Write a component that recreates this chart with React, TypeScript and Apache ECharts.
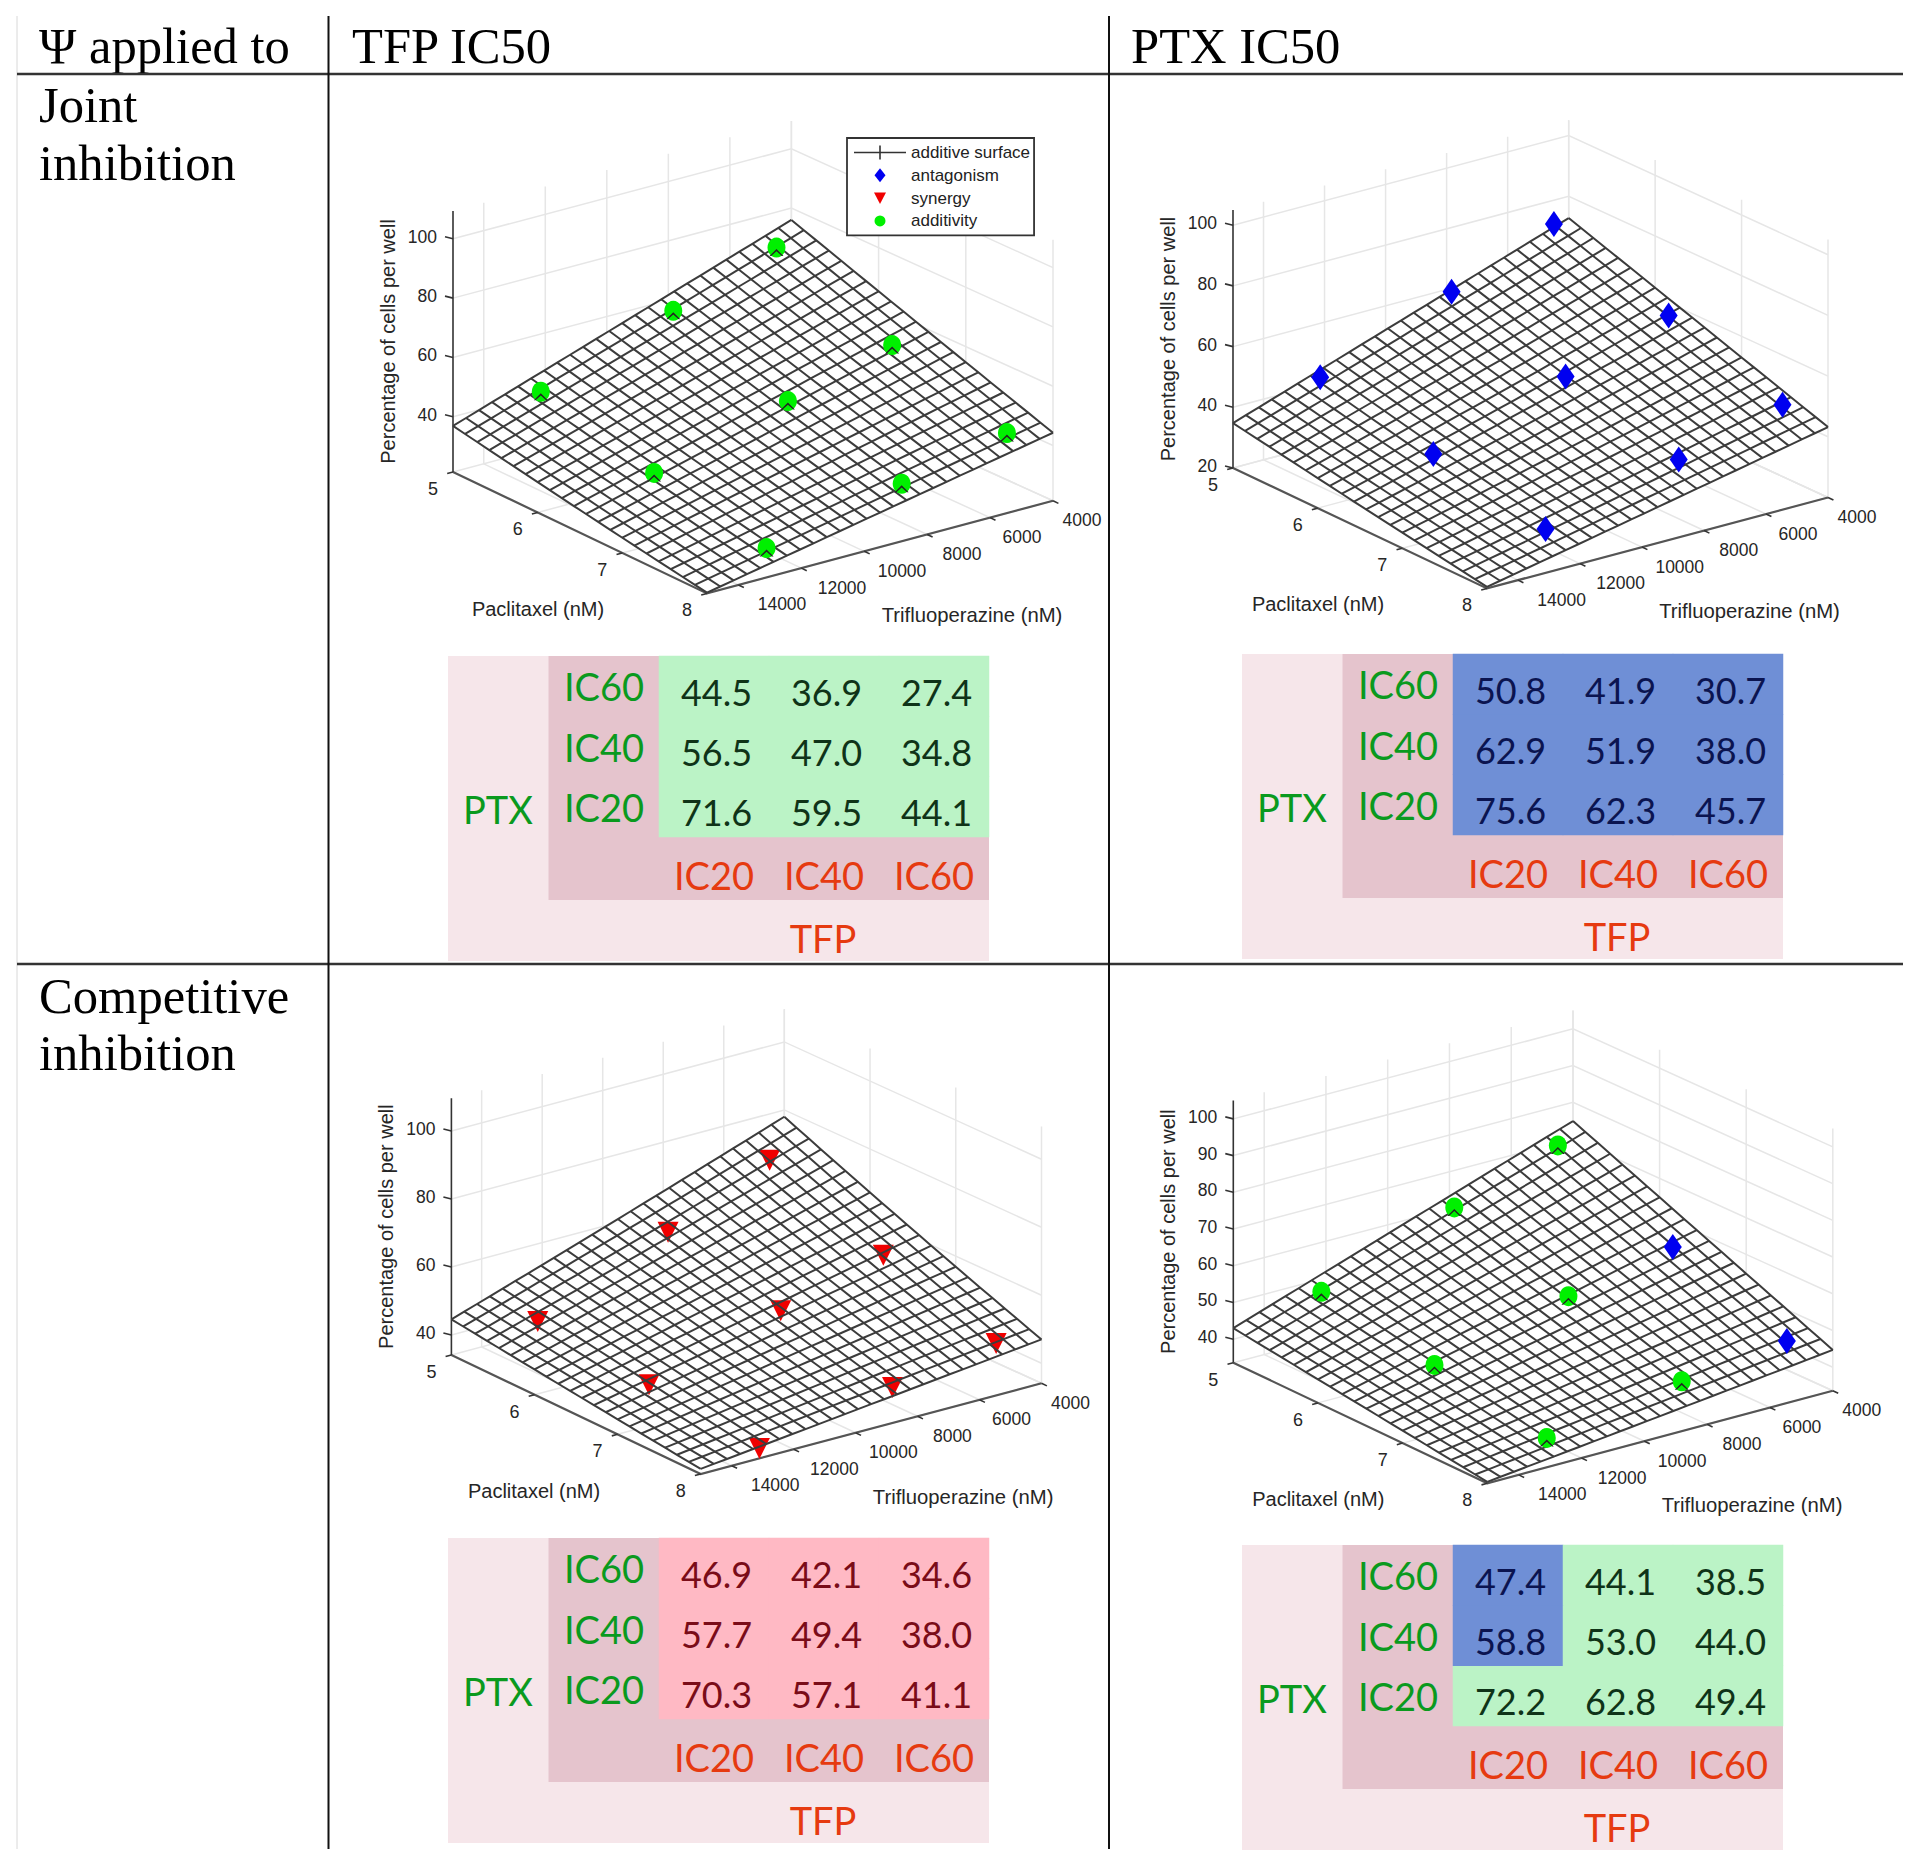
import React, { useEffect, useRef } from "react";
import * as echarts from "echarts";

const WIDTH = 1920;
const HEIGHT = 1867;

// ---------- values ----------
const doseLevels = ["IC20", "IC40", "IC60"];
// rows: PTX IC20, IC40, IC60; columns: TFP IC20, IC40, IC60
const jointTfpValues = [
  [71.6, 59.5, 44.1],
  [56.5, 47.0, 34.8],
  [44.5, 36.9, 27.4],
];
const jointPtxValues = [
  [75.6, 62.3, 45.7],
  [62.9, 51.9, 38.0],
  [50.8, 41.9, 30.7],
];
const compTfpValues = [
  [70.3, 57.1, 41.1],
  [57.7, 49.4, 38.0],
  [46.9, 42.1, 34.6],
];
const compPtxValues = [
  [72.2, 62.8, 49.4],
  [58.8, 53.0, 44.0],
  [47.4, 44.1, 38.5],
];
const A = "additivity";
const N = "antagonism";
const S = "synergy";
const classOrder = [A, N, S];
const jointTfpClasses = [[A, A, A], [A, A, A], [A, A, A]];
const jointPtxClasses = [[N, N, N], [N, N, N], [N, N, N]];
const compTfpClasses = [[S, S, S], [S, S, S], [S, S, S]];
const compPtxClasses = [[A, A, A], [N, A, A], [N, A, A]];

// dose each marker sits at, read back from the plots
const tfpDoses = [5050, 8400, 12700];
const ptxDoses = [5.2, 6.53, 7.85];

// additive surface at nine knots (rows ptx, columns tfp)
const knotPtx = [5, 6.5, 8];
const knotTfp = [4000, 9500, 15000];
const surfaceJointTfp = [[76, 56.4, 36.9], [60, 44.5, 29], [44.3, 33, 21.6]];
const surfaceJointPtx = [[72.8, 53.8, 34.8], [58, 42.3, 27.5], [43.2, 31.8, 20.5]];
const surfaceCompTfp = [[78, 61, 44.6], [62, 51, 40], [47, 41.3, 35.6]];
const surfaceCompPtx = [[74.9, 59, 43], [59.8, 49, 38.5], [44.7, 39.3, 34]];

const ptxTicks = [5, 6, 7, 8];
const tfpTicks = [4000, 6000, 8000, 10000, 12000, 14000];
const zTicksA = [40, 60, 80, 100];
const zTicksB = [20, 40, 60, 80, 100];
const zTicksC = [40, 50, 60, 70, 80, 90, 100];

const TFP_MIN = 4000;
const TFP_MAX = 15000;
const MESH_TFP_CELLS = 26;
const MESH_PTX_CELLS = 21;

// ---------- layout ----------
type Pt = [number, number];
const plotLayouts = [
  { left: [453, 472] as Pt, bottom: [707, 593.4] as Pt, right: [1053, 500.8] as Pt, back: [791.4, 382] as Pt, zMin: 21.35, zMax: 109.4, k: 2.965 },
  { left: [1233, 468] as Pt, bottom: [1487, 588.4] as Pt, right: [1828, 497.5] as Pt, back: [1568.7, 378.3] as Pt, zMin: 20, zMax: 105, k: 3.035 },
  { left: [451.4, 1355] as Pt, bottom: [700.7, 1474] as Pt, right: [1041.5, 1383.3] as Pt, back: [784.3, 1266] as Pt, zMin: 34.1, zMax: 109.6, k: 3.4 },
  { left: [1233.3, 1362.7] as Pt, bottom: [1487.3, 1483.3] as Pt, right: [1832.8, 1390.7] as Pt, back: [1573, 1272.7] as Pt, zMin: 33.6, zMax: 105, k: 3.672 },
];
const tableOrigins: Pt[] = [[659, 656], [1453, 654], [659, 1538], [1453, 1545]];

const panelData = [
  { values: jointTfpValues, classes: jointTfpClasses, surface: surfaceJointTfp, zTicks: zTicksA },
  { values: jointPtxValues, classes: jointPtxClasses, surface: surfaceJointPtx, zTicks: zTicksB },
  { values: compTfpValues, classes: compTfpClasses, surface: surfaceCompTfp, zTicks: zTicksA },
  { values: compPtxValues, classes: compPtxClasses, surface: surfaceCompPtx, zTicks: zTicksC },
];

const cellColor: Record<string, string> = { additivity: "#bbf3c6", antagonism: "#6f8fd6", synergy: "#ffb9c4" };
const cellText: Record<string, string> = { additivity: "#0f3318", antagonism: "#0b1450", synergy: "#7a0c18" };
const markerColor: Record<string, string> = { additivity: "#00f000", antagonism: "#0000f0", synergy: "#f00000" };
const PTX_GREEN = "#0a9a1e";
const TFP_RED = "#e63a10";
const SANS = '"Liberation Sans", Arial, sans-serif';
const SERIF = '"Liberation Serif", "Times New Roman", serif';
const TABLE_FONT = "Lato";

const lerp = (a: number, b: number, t: number) => a + (b - a) * t;

function project(L: (typeof plotLayouts)[number], tfp: number, ptx: number, z: number): Pt {
  const a = (TFP_MAX - tfp) / (TFP_MAX - TFP_MIN);
  const b = (ptx - 5) / 3;
  const x = lerp(lerp(L.left[0], L.back[0], a), lerp(L.bottom[0], L.right[0], a), b);
  const y = lerp(lerp(L.left[1], L.back[1], a), lerp(L.bottom[1], L.right[1], a), b);
  return [x, y - (z - L.zMin) * L.k];
}

// The mesh between the nine read knots: the surface is a fitted model in the source
// and its hundreds of grid nodes cannot be read one by one.
function quad(xs: number[], ys: number[], x: number) {
  let out = 0;
  for (let i = 0; i < 3; i++) {
    let w = 1;
    for (let j = 0; j < 3; j++) if (j !== i) w *= (x - xs[j]) / (xs[i] - xs[j]);
    out += w * ys[i];
  }
  return out;
}
function surfaceAt(surface: number[][], tfp: number, ptx: number) {
  return quad(knotPtx, surface.map((row) => quad(knotTfp, row, tfp)), ptx);
}

const text = (
  t: string, x: number, y: number, font: string, fill: string,
  align = "center", rotation = 0, vAlign = "middle",
) => ({
  type: "text", x, y, rotation, z: 5, silent: true,
  style: { text: t, font, fill, textAlign: align, textVerticalAlign: vAlign },
});
const hline = (x1: number, y1: number, x2: number, y2: number, stroke: string, lineWidth: number) => ({
  type: "line", z: 6, silent: true, shape: { x1, y1, x2, y2 }, style: { stroke, lineWidth },
});
const rect = (x: number, y: number, width: number, height: number, fill: string) => ({
  type: "rect", z: -10, silent: true, shape: { x, y, width, height }, style: { fill },
});

export default function App() {
  const ref = useRef<HTMLDivElement>(null);
  useEffect(() => {
    document.body.style.margin = "0";
    const chart = echarts.init(ref.current!, undefined, { renderer: "svg" });

    const grids: any[] = [];
    const xAxes: any[] = [];
    const yAxes: any[] = [];
    const series: any[] = [];
    const graphics: any[] = [];
    const heatmapIndices: number[] = [];
    const HEAD = `50.6px ${SERIF}`;

    // page frame
    graphics.push(
      hline(17, 16, 17, 1849, "#d8d8d8", 1),
      hline(17, 74, 1903, 74, "#333", 2.4),
      hline(17, 964, 1903, 964, "#333", 2.4),
      hline(328.5, 16, 328.5, 1849, "#111", 2),
      hline(1109, 16, 1109, 1849, "#111", 2),
      text("Ψ applied to", 39, 45.5, HEAD, "#000", "left"),
      text("TFP IC50", 352, 45.5, HEAD, "#000", "left"),
      text("PTX IC50", 1131, 45.5, HEAD, "#000", "left"),
      text("Joint", 39, 105, HEAD, "#000", "left"),
      text("inhibition", 39, 163, HEAD, "#000", "left"),
      text("Competitive", 39, 996, HEAD, "#000", "left"),
      text("inhibition", 39, 1053, HEAD, "#000", "left"),
    );

    plotLayouts.forEach((L, i) => {
      const { values, classes, surface, zTicks } = panelData[i];
      grids.push({ left: 0, top: 0, width: WIDTH, height: HEIGHT, show: false });
      xAxes.push({ type: "value", gridIndex: i, min: 0, max: WIDTH, show: false });
      yAxes.push({ type: "value", gridIndex: i, min: 0, max: HEIGHT, inverse: true, show: false });
      const axisRefs = { xAxisIndex: i, yAxisIndex: i, coordinateSystem: "cartesian2d" };

      // walls and floor
      const wall: any[] = [];
      zTicks.forEach((z) => {
        wall.push({ coords: [project(L, TFP_MAX, 5, z), project(L, TFP_MIN, 5, z), project(L, TFP_MIN, 8, z)] });
      });
      tfpTicks.forEach((t) => {
        wall.push({ coords: [project(L, t, 5, L.zMax), project(L, t, 5, L.zMin), project(L, t, 8, L.zMin)] });
      });
      ptxTicks.slice(1).forEach((p) => {
        wall.push({ coords: [project(L, TFP_MIN, p, L.zMax), project(L, TFP_MIN, p, L.zMin), project(L, TFP_MAX, p, L.zMin)] });
      });
      wall.push({ coords: [project(L, TFP_MIN, 5, L.zMax), project(L, TFP_MIN, 5, L.zMin)] });
      wall.push({ coords: [project(L, TFP_MAX, 5, L.zMin), project(L, TFP_MIN, 5, L.zMin), project(L, TFP_MIN, 8, L.zMin)] });
      series.push({
        ...axisRefs, type: "lines", name: "grid", polyline: true, silent: true, z: 1,
        lineStyle: { color: "#e6e6e6", width: 1.5, opacity: 1 }, data: wall,
      });

      // axes
      const axisLines: any[] = [
        { coords: [project(L, TFP_MAX, 5, L.zMin), project(L, TFP_MAX, 8, L.zMin), project(L, TFP_MIN, 8, L.zMin)] },
      ];
      const tickLines: any[] = [];
      const [bx, by] = project(L, TFP_MAX, 8, L.zMin);
      const [rx, ry] = project(L, TFP_MIN, 8, L.zMin);
      const [lx, ly] = project(L, TFP_MAX, 5, L.zMin);
      const tLen = Math.hypot(rx - bx, ry - by);
      const pLen = Math.hypot(bx - lx, by - ly);
      ptxTicks.forEach((p) => {
        const [x, y] = project(L, TFP_MAX, p, L.zMin);
        tickLines.push({ coords: [[x, y], [x - ((rx - bx) / tLen) * 6, y - ((ry - by) / tLen) * 6]] });
        graphics.push(text(String(p), x - 20, y + 17, `18px ${SANS}`, "#262626"));
      });
      tfpTicks.forEach((t) => {
        const [x, y] = project(L, t, 8, L.zMin);
        const frac = (TFP_MAX - t) / (TFP_MAX - TFP_MIN);
        tickLines.push({ coords: [[x, y], [x + ((bx - lx) / pLen) * 6, y + ((by - ly) / pLen) * 6]] });
        graphics.push(text(String(t), x + 45 - 16 * frac, y + 19.5, `17.5px ${SANS}`, "#262626"));
      });
      zTicks.forEach((z) => {
        const [x, y] = project(L, TFP_MAX, 5, z);
        tickLines.push({ coords: [[x, y], [x - 8, y - 2]] });
        graphics.push(text(String(z), x - 16, y - 2, `17.5px ${SANS}`, "#262626", "right"));
      });
      graphics.push(
        text("Paclitaxel (nM)", (lx + bx) / 2 - 42, (ly + by) / 2 + 76, `20px ${SANS}`, "#262626"),
        text("Trifluoperazine (nM)", (bx + rx) / 2 + 92, (by + ry) / 2 + 68, `20.3px ${SANS}`, "#262626"),
        text("Percentage of cells per well", lx - 65, (ly + project(L, TFP_MAX, 5, L.zMax)[1]) / 2, `20px ${SANS}`, "#262626", "center", Math.PI / 2),
      );
      series.push({
        ...axisRefs, type: "lines", name: "floor axes", polyline: true, silent: true, z: 1.5,
        lineStyle: { color: "#555", width: 2.2, opacity: 1 }, data: axisLines,
      });
      series.push({
        ...axisRefs, type: "lines", name: "z axis", polyline: true, silent: true, z: 1.5,
        lineStyle: { color: "#333", width: 1.6, opacity: 1 },
        data: [{ coords: [project(L, TFP_MAX, 5, L.zMin), project(L, TFP_MAX, 5, L.zMax)] }, ...tickLines],
      });

      // opaque face of the surface
      const outline: Pt[] = [];
      for (let n = 0; n <= MESH_TFP_CELLS; n++) {
        const t = lerp(TFP_MAX, TFP_MIN, n / MESH_TFP_CELLS);
        outline.push(project(L, t, 5, surfaceAt(surface, t, 5)));
      }
      for (let n = 0; n <= MESH_PTX_CELLS; n++) {
        const p = lerp(5, 8, n / MESH_PTX_CELLS);
        outline.push(project(L, TFP_MIN, p, surfaceAt(surface, TFP_MIN, p)));
      }
      for (let n = 0; n <= MESH_TFP_CELLS; n++) {
        const t = lerp(TFP_MIN, TFP_MAX, n / MESH_TFP_CELLS);
        outline.push(project(L, t, 8, surfaceAt(surface, t, 8)));
      }
      for (let n = 0; n <= MESH_PTX_CELLS; n++) {
        const p = lerp(8, 5, n / MESH_PTX_CELLS);
        outline.push(project(L, TFP_MAX, p, surfaceAt(surface, TFP_MAX, p)));
      }
      series.push({
        ...axisRefs, type: "custom", name: "surface face", silent: true, z: 2, clip: false,
        data: [[0, 0]],
        renderItem: (_p: any, api: any) => ({
          type: "polygon",
          shape: { points: outline.map((q) => api.coord(q)) },
          style: { fill: "#ffffff", opacity: 0.92 },
        }),
      });

      // mesh
      const mesh: any[] = [];
      for (let u = 0; u <= MESH_TFP_CELLS; u++) {
        const t = lerp(TFP_MAX, TFP_MIN, u / MESH_TFP_CELLS);
        const coords: Pt[] = [];
        for (let v = 0; v <= MESH_PTX_CELLS; v++) {
          const p = lerp(5, 8, v / MESH_PTX_CELLS);
          coords.push(project(L, t, p, surfaceAt(surface, t, p)));
        }
        mesh.push({ coords });
      }
      for (let v = 0; v <= MESH_PTX_CELLS; v++) {
        const p = lerp(5, 8, v / MESH_PTX_CELLS);
        const coords: Pt[] = [];
        for (let u = 0; u <= MESH_TFP_CELLS; u++) {
          const t = lerp(TFP_MAX, TFP_MIN, u / MESH_TFP_CELLS);
          coords.push(project(L, t, p, surfaceAt(surface, t, p)));
        }
        mesh.push({ coords });
      }
      series.push({
        ...axisRefs, type: "lines", name: "additive surface", polyline: true, silent: true, z: 3,
        lineStyle: { color: "#3c3c3c", width: 2, opacity: 1 }, data: mesh,
      });

      // markers
      [A, N, S].forEach((cls) => {
        const pts: Pt[] = [];
        values.forEach((row, r) =>
          row.forEach((v, c) => {
            if (classes[r][c] === cls) pts.push(project(L, tfpDoses[c], ptxDoses[r], v));
          }),
        );
        if (!pts.length) return;
        const symbol = cls === A ? "circle" : cls === N ? "diamond" : "triangle";
        const symbolSize = cls === A ? [18, 20] : cls === N ? [18, 26] : [21, 21];
        series.push({
          ...axisRefs, type: "scatter", name: cls, silent: true, z: cls === S ? 2.5 : 4,
          symbol, symbolSize, symbolRotate: cls === S ? 180 : 0,
          symbolOffset: cls === S ? [0, 1] : [0, -2],
          itemStyle: { color: markerColor[cls], opacity: 1 }, data: pts,
        });
        if (cls === A) {
          series.push({
            ...axisRefs, type: "scatter", name: "mesh over marker", silent: true, z: 4.5,
            symbol: "path://M0 8L8 0L16 8L14 8L8 2.5L2 8Z", symbolSize: [14, 7], symbolOffset: [0, 3], symbolKeepAspect: false,
            itemStyle: { color: "#222", opacity: 1 }, data: pts,
          });
        }
      });
    });

    // tables
    tableOrigins.forEach(([L, T], i) => {
      const g = plotLayouts.length + i;
      const { values, classes } = panelData[i];
      graphics.push(
        rect(L - 211, T, 541, 305, "#f6e6ea"),
        rect(L - 110.5, T, 440.5, 244, "#e5c4cd"),
        text("PTX", L - 161, T + 153, `38px ${TABLE_FONT}`, PTX_GREEN),
        text("TFP", L + 164, T + 282, `38px ${TABLE_FONT}`, TFP_RED),
      );
      grids.push({ left: L, top: T, width: 330, height: 181, show: false });
      xAxes.push({
        type: "category", gridIndex: g, data: doseLevels,
        axisLine: { show: false }, axisTick: { show: false }, splitLine: { show: false },
        axisLabel: { color: TFP_RED, fontFamily: TABLE_FONT, fontSize: 38, margin: 38, verticalAlign: "middle", interval: 0 },
      });
      yAxes.push({
        type: "category", gridIndex: g, data: doseLevels,
        axisLine: { show: false }, axisTick: { show: false }, splitLine: { show: false },
        axisLabel: { color: PTX_GREEN, fontFamily: TABLE_FONT, fontSize: 38, margin: 55, align: "center", interval: 0 },
      });
      const cells: any[] = [];
      values.forEach((row, r) =>
        row.forEach((v, c) => {
          const cls = classes[r][c];
          cells.push({
            value: [c, r, v, classOrder.indexOf(cls)],
            label: { color: cellText[cls] },
          });
        }),
      );
      heatmapIndices.push(series.length);
      series.push({
        type: "heatmap", name: "table", coordinateSystem: "cartesian2d", xAxisIndex: g, yAxisIndex: g, silent: true,
        data: cells,
        label: {
          show: true, fontFamily: TABLE_FONT, fontSize: 36, offset: [2.5, 5.5],
          formatter: (p: any) => p.value[2].toFixed(1),
        },
      });
    });

    chart.setOption({
      animation: false,
      backgroundColor: "#ffffff",
      grid: grids,
      xAxis: xAxes,
      yAxis: yAxes,
      series,
      visualMap: {
        type: "piecewise", show: false, seriesIndex: heatmapIndices, dimension: 3,
        pieces: classOrder.map((c, idx) => ({ value: idx, color: cellColor[c] })),
      },
      graphic: { elements: graphics },
      legend: {
        left: 847, top: 138, orient: "vertical", selectedMode: false, z: 20,
        backgroundColor: "#fff", borderColor: "#333", borderWidth: 1.8,
        padding: [6, 4, 6, 7], itemGap: 5.8, itemWidth: 52, itemHeight: 14,
        textStyle: { fontFamily: "Liberation Sans", fontSize: 17, color: "#222" },
        data: [
          { name: "additive surface", icon: "path://M0 6.2H52V7.8H0ZM25.2 0H26.8V14H25.2Z", itemStyle: { color: "#333", borderWidth: 0 } },
          { name: "antagonism", icon: "path://M0 0L0 0M14 14L14 14M7 0L12.5 7L7 14L1.5 7Z", itemStyle: { color: markerColor.antagonism } },
          { name: "synergy", icon: "path://M0 0L0 0M14 14L14 14M1 1.5H13L7 13Z", itemStyle: { color: markerColor.synergy } },
          { name: "additivity", icon: "path://M0 0L0 0M14 14L14 14M1.5 7A5.5 5.5 0 1 1 12.5 7A5.5 5.5 0 1 1 1.5 7Z", itemStyle: { color: markerColor.additivity } },
        ],
      },
    });
    return () => chart.dispose();
  }, []);
  return <div ref={ref} style={{ position: "absolute", left: 0, top: 0, width: WIDTH, height: HEIGHT }} />;
}
